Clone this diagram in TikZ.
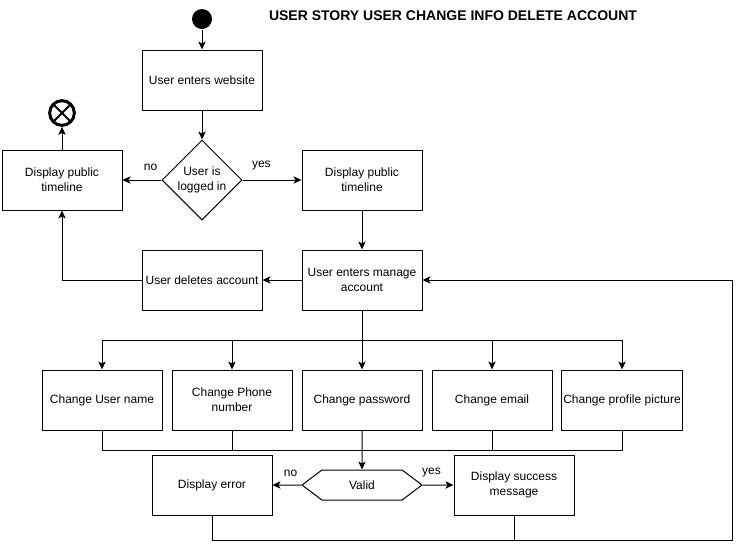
\documentclass[tikz,border=0pt]{standalone}
\usepackage{fontspec}
\setmainfont{Liberation Sans}
\usetikzlibrary{arrows.meta,shapes.geometric,shapes.symbols,shapes.misc}

\begin{document}
\begin{tikzpicture}[x=0.75pt,y=-0.75pt,line width=0.75pt,
	trans/.style={->,>={Stealth[length=6pt,width=5.5pt,inset=1.5pt]}},
	box/.style={draw,rectangle,align=center,minimum width=90pt,minimum height=45pt,inner sep=1pt,font=\fontsize{9}{11.5}\selectfont},
	lbl/.style={font=\fontsize{9}{11}\selectfont,inner sep=1pt}]
\useasboundingbox (0,0) rectangle (741,550);
\node[circle,fill=black,minimum size=15pt,inner sep=0pt] (S) at (202,19) {};
\node[font=\bfseries\fontsize{10.5}{12}\selectfont] (T) at (453,16) {USER STORY USER CHANGE INFO DELETE ACCOUNT};
\node[box] (A) at (202,80) {User enters website};
\node[draw,diamond,aspect=1,inner sep=0pt,minimum width=60pt,minimum height=60pt,align=center,font=\fontsize{9}{11.5}\selectfont] (B) at (202,180)
	{User is\\logged in};
\node[box] (L) at (62,180) {Display public\\timeline};
\node[box] (R) at (362,180) {Display public\\timeline};
\node[circle,draw,line width=2.25pt,minimum size=18.5pt,inner sep=0pt] (E) at (62,113) {};
\node[cross out,draw,line width=1.5pt,minimum size=11pt,inner sep=0pt] (X) at (E) {};
\node[box] (D) at (202,280) {User deletes account};
\node[box] (M) at (362,280) {User enters manage\\account};
	\node[box] (C1) at (102,400) {Change User name};
	\node[box] (C2) at (232,400) {Change Phone\\number};
	\node[box] (C3) at (362,400) {Change password};
	\node[box] (C4) at (492,400) {Change email};
	\node[box] (C5) at (622,400) {Change profile picture};
\node[draw,signal,signal to=west and east,signal pointer angle=74,minimum width=90pt,minimum height=22.5pt,inner sep=0pt,font=\fontsize{9}{11}\selectfont] (V) at (362,485)
	{Valid};
\node[box] (Er) at (212,485) {Display error};
\node[box] (Su) at (514,485) {Display success\\message};
\coordinate (J1) at (362,340);
\coordinate (J2) at (362,450);
\coordinate (K) at (732,540);
	\draw[trans] (S) -- (A);
	\draw[trans] (A) -- (B);
	\draw[trans] (B) -- node[lbl,pos=0.28,above=6pt]{no} (L);
	\draw[trans] (B) -- node[lbl,pos=0.32,above=6pt]{yes} (R);
	\draw[trans] (L) -- (E);
	\draw[trans] (R) -- (M);
	\draw[trans] (M) -- (D);
	\draw[trans] (D) -| (L);
	\draw (M) -- (J1);
	\draw[trans] (J1) -| (C1);
	\draw[trans] (J1) -| (C2);
	\draw[trans] (J1) -- (C3);
	\draw[trans] (J1) -| (C4);
	\draw[trans] (J1) -| (C5);
	\draw (C1) |- (J2);
	\draw (C2) |- (J2);
	\draw (C4) |- (J2);
	\draw (C5) |- (J2);
	\draw[trans] (C3) -- (V);
	\draw[trans] (V) -- node[lbl,pos=0.37,above=5pt]{no} (Er);
	\draw[trans] (V) -- node[lbl,pos=0.28,above=5pt]{yes} (Su);
	\draw[trans] (Er) |- (K) |- (M);
	\draw (Su) |- (K);
\end{tikzpicture}
\end{document}
